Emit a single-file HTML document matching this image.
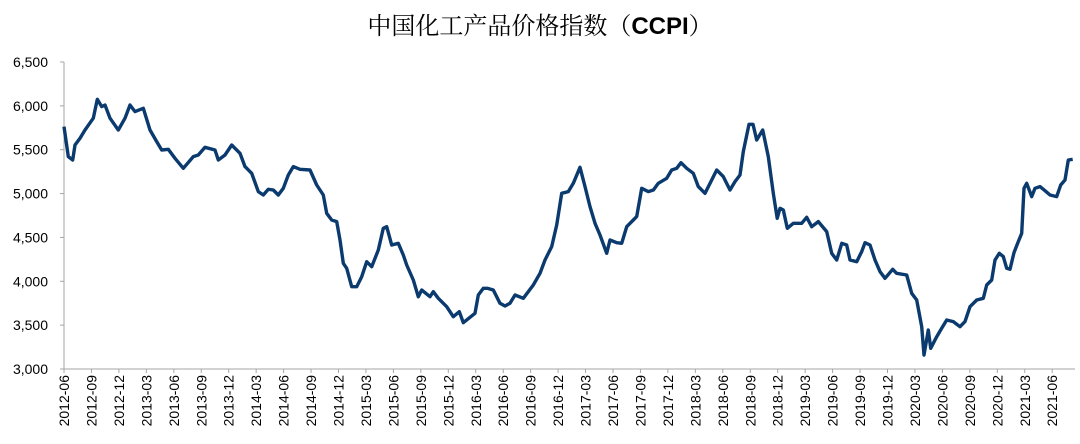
<!DOCTYPE html>
<html><head><meta charset="utf-8"><style>
body{margin:0;background:#fff;}
svg{display:block;font-family:"Liberation Sans","Noto Sans CJK SC",sans-serif;}
</style></head><body>
<svg id="chart" width="1080" height="444" viewBox="0 0 1080 444">
<text x="540" y="34" text-anchor="middle" font-size="24" font-family="'Liberation Serif','Noto Serif CJK SC',serif" fill="#000">中国化工产品价格指数（<tspan font-weight="bold" font-family="'Liberation Sans',sans-serif">CCPI</tspan>）</text>
<g id="axes"></g>
<g id="plot"></g>
</svg>
<script>
// months since 2012-06
const months=[0,0.47,0.95,1.2,1.75,2.3,3.2,3.64,4.12,4.48,5.03,5.93,6.67,7.21,7.76,8.67,9.4,10.13,10.68,11.4,12.13,13.04,14.13,14.68,15.41,16.5,16.86,17.6,18.33,19.23,19.78,20.51,21.23,21.78,22.33,22.87,23.42,23.97,24.51,25.06,25.79,26.89,27.62,28.34,28.71,29.26,29.8,30.16,30.52,30.9,31.44,31.99,32.54,33.08,33.63,34.35,34.9,35.27,35.81,36.54,37.08,37.45,38.17,38.72,39.09,40,40.36,40.91,41.83,42.55,43.2,43.64,44.37,44.92,45.28,45.83,46.26,46.92,47.65,48.2,48.74,49.29,50.2,51.29,52.02,52.57,53.3,53.85,54.39,55.11,55.66,56.39,56.94,57.49,58.03,58.58,59.31,59.67,60.4,60.95,61.5,62.22,62.59,63.14,63.86,64.41,64.95,65.87,66.42,66.96,67.43,68.05,68.78,69.32,70.05,70.79,71.33,72.05,72.79,73.33,73.88,74.24,74.86,75.3,75.71,76.36,76.97,77.52,77.95,78.25,78.61,79.05,79.7,80.62,81.17,81.72,82.44,83.36,83.9,84.45,85,85.54,85.9,86.63,87.18,87.54,88.09,88.63,89.18,89.73,90.57,91,92.1,92.64,93.19,93.74,93.99,94.46,94.72,95.38,95.92,96.47,97.19,97.92,98.47,99.02,99.75,100.47,100.84,101.39,101.75,102.22,102.66,103.03,103.39,103.83,104.3,104.67,104.92,105.21,105.76,106.12,106.67,107.21,107.76,108.49,108.93,109.4,109.76,110.24];
const values=[5763,5421,5383,5554,5631,5725,5859,6075,5991,6010,5859,5725,5859,6010,5934,5972,5725,5592,5497,5505,5402,5288,5421,5440,5528,5497,5383,5440,5554,5459,5307,5231,5022,4984,5049,5041,4984,5060,5212,5307,5277,5269,5098,4984,4775,4699,4680,4471,4205,4148,3938,3938,4052,4223,4166,4357,4604,4622,4414,4433,4300,4186,4015,3824,3901,3824,3881,3806,3710,3596,3653,3528,3589,3635,3844,3920,3920,3901,3749,3718,3749,3844,3806,3958,4091,4243,4395,4642,5003,5022,5117,5299,5079,4851,4661,4528,4319,4471,4440,4433,4622,4699,4737,5060,5022,5041,5117,5174,5269,5288,5352,5288,5231,5079,5003,5155,5269,5193,5041,5136,5212,5478,5790,5790,5611,5725,5421,5003,4718,4832,4813,4604,4661,4661,4730,4622,4680,4566,4319,4243,4433,4414,4243,4223,4338,4440,4414,4243,4110,4034,4137,4091,4072,3863,3787,3482,3160,3445,3236,3368,3464,3559,3540,3482,3540,3710,3787,3806,3958,4015,4243,4319,4281,4148,4137,4327,4452,4547,5060,5117,4965,5060,5079,5033,4984,4965,5098,5155,5383,5391];
const yTicks=[3000,3500,4000,4500,5000,5500,6000,6500];
const xLabels=["2012-06","2012-09","2012-12","2013-03","2013-06","2013-09","2013-12","2014-03","2014-06","2014-09","2014-12","2015-03","2015-06","2015-09","2015-12","2016-03","2016-06","2016-09","2016-12","2017-03","2017-06","2017-09","2017-12","2018-03","2018-06","2018-09","2018-12","2019-03","2019-06","2019-09","2019-12","2020-03","2020-06","2020-09","2020-12","2021-03","2021-06"];
const NS="http://www.w3.org/2000/svg";
const X0=64,Y0=369,Y1=62,RIGHT=1075;
const xs=m=>X0+m*9.15;
const ys=v=>Y0-(v-3000)/3500*(Y0-Y1);
const fmt=v=>v.toLocaleString("en-US");
const axes=document.getElementById("axes"),plot=document.getElementById("plot");
function mk(t,a,p){const e=document.createElementNS(NS,t);for(const k in a)e.setAttribute(k,a[k]);p.appendChild(e);return e;}
const ya=mk("line",{x1:X0,y1:Y1,x2:X0,y2:Y0,stroke:"#a6a6a6","stroke-width":1},axes);


const xa=mk("line",{x1:X0,y1:Y0,x2:RIGHT,y2:Y0,stroke:"#a6a6a6","stroke-width":1},axes);


yTicks.forEach(v=>{
  const y=ys(v);
  mk("line",{x1:X0-4,y1:y,x2:X0,y2:y,stroke:"#a6a6a6"},axes);
  const t=mk("text",{x:X0-16,y:y+5,"text-anchor":"end","font-size":14,fill:"#000"},axes);
  t.textContent=fmt(v);
  
  
});
xLabels.forEach((l,i)=>{
  const x=xs(i*3);
  mk("line",{x1:x,y1:Y0,x2:x,y2:Y0+4,stroke:"#a6a6a6"},axes);
  const t=mk("text",{x:0,y:0,"text-anchor":"end","font-size":14,fill:"#000",transform:`translate(${x+5},${Y0+6}) rotate(-90)`},axes);
  t.textContent=l;
  
  
});
const line=mk("polyline",{points:months.map((m,i)=>xs(m).toFixed(1)+","+ys(values[i]).toFixed(1)).join(" "),fill:"none",stroke:"#0b3a6e","stroke-width":3.4,"stroke-linejoin":"round"},plot);


</script>
</body></html>
